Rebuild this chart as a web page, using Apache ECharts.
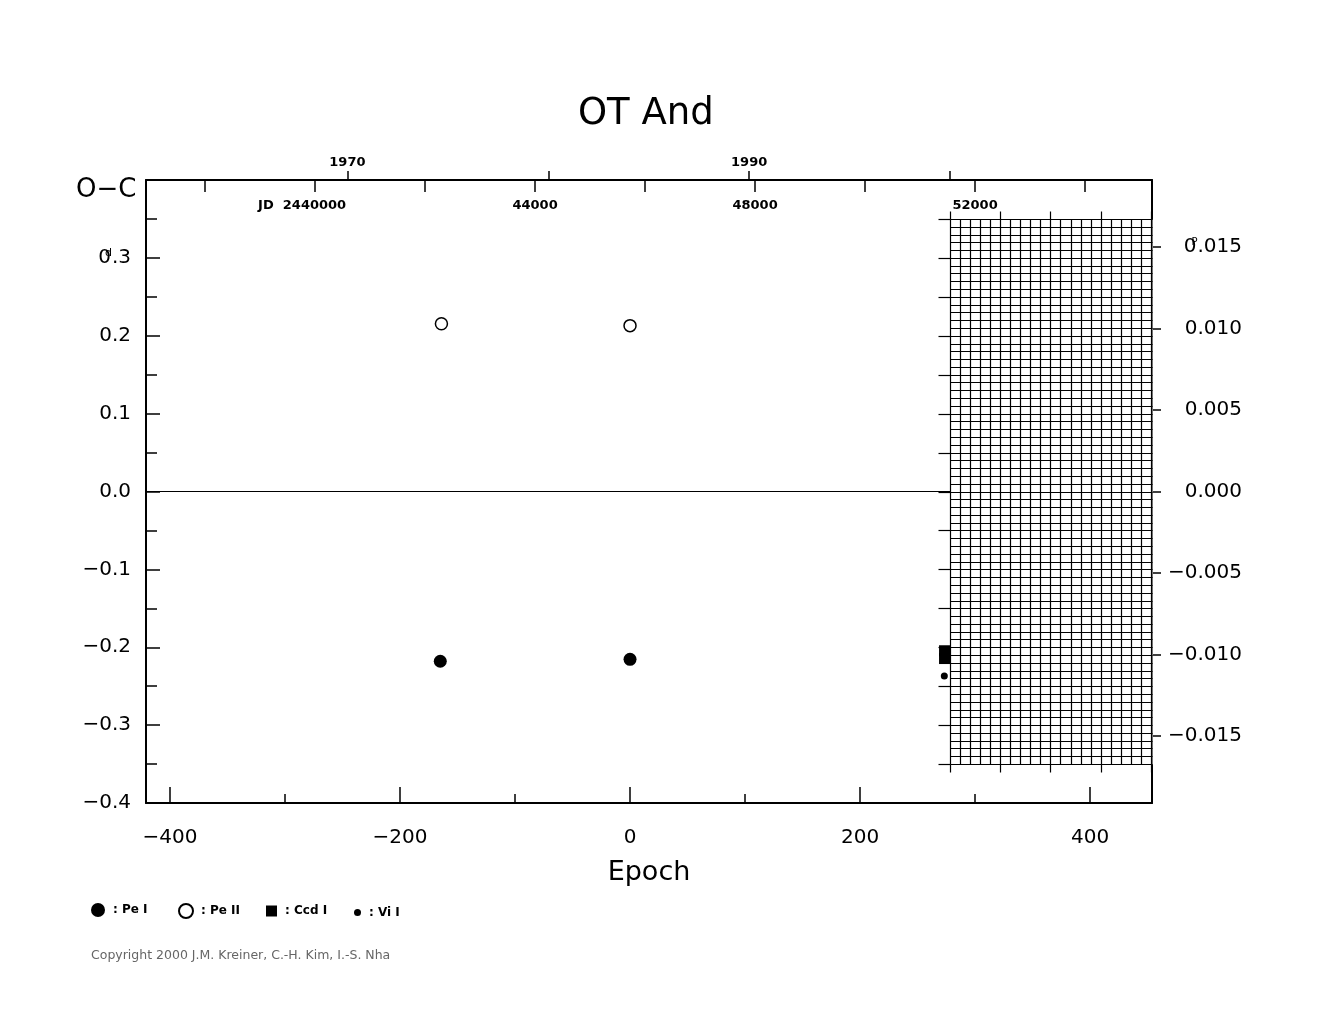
<!DOCTYPE html>
<html><head><meta charset="utf-8">
<script src="https://cdn.jsdelivr.net/npm/echarts@6/dist/echarts.min.js"></script>
<style>html,body{margin:0;padding:0;background:#fff}#c{width:1325px;height:1020px}</style>
</head><body><div id="c"></div>
<script>
// ---------------- data ----------------
const peIEpoch = [-165, 0];
const peIOC = [-0.218, -0.2155];
const peIIEpoch = [-164, 0];
const peIIOC = [0.2155, 0.213];
const ccdIEpoch = [273.5, 273.5];
const ccdIOC = [-0.2045, -0.2145];
const viIEpoch = [273.3];
const viIOC = [-0.237];

const epochTicksMajor = [-400, -200, 0, 200, 400];
const epochTicksMinor = [-300, -100, 100, 300];
const phaseTicks = [-0.015, -0.010, -0.005, 0, 0.005, 0.010, 0.015];
const jdTicks = [38000, 40000, 42000, 44000, 46000, 48000, 50000, 52000, 54000];   // JD - 2400000
const jdLabels = [40000, 44000, 48000, 52000];
const yearTicks = [1970, 1980, 1990, 2000];
const yearLabels = [1970, 1990];

// ephemeris / ranges
const PERIOD = 20.91;       // days
const T0 = 45726.1;         // JD - 2400000 of epoch 0
const EPOCH_MIN = -420.9, EPOCH_MAX = 453.9;
const OC_MIN = -0.4, OC_MAX = 0.4;
const HATCH_START_YEAR = 2000, HATCH_OC = 0.35;

// ---------------- helpers ----------------
const FONT = 'DejaVu Sans';
const jdToEpoch = rjd => (rjd - T0) / PERIOD;
const yearToEpoch = y => jdToEpoch(51544.5 + (y - 2000) * 365.25);
const epochToJd = e => Math.round((e * PERIOD + T0) / 1000) * 1000;
const epochToYear = e => Math.round(2000 + ((e * PERIOD + T0) - 51544.5) / 365.25);
const minus = s => s.replace('-', '\u2212');
const pairs = (xs, ys) => xs.map((x, i) => [x, ys[i]]);

const chart = echarts.init(document.getElementById('c'), null, {renderer: 'canvas'});

function renderHatch(params, api) {
  const x0 = api.value(0), x1 = api.value(1), yLo = api.value(2), yHi = api.value(3);
  const pTL = api.coord([x0, yHi]);
  const pBR = api.coord([x1, yLo]);
  const L = Math.round(pTL[0]) + 0.5, R = Math.round(pBR[0]) + 0.5;
  const T = Math.round(pTL[1]) + 0.5, B = Math.round(pBR[1]) + 0.5;
  const st = {stroke: '#000', lineWidth: 1.2};
  const ch = [{type: 'rect', shape: {x: L, y: T, width: R - L, height: B - T}, style: {fill: '#fff'}}];
  // horizontal lines every 0.01 d
  for (let k = Math.round(yLo * 100); k <= Math.round(yHi * 100); k++) {
    const y = Math.round(api.coord([x0, k / 100])[1]) + 0.5;
    ch.push({type: 'line', shape: {x1: L, y1: y, x2: R, y2: y}, style: st});
    if (k % 5 === 0) ch.push({type: 'line', shape: {x1: L - 12, y1: y, x2: L, y2: y}, style: st});
  }
  // vertical lines every half year
  for (let h = 0; ; h++) {
    const yr = HATCH_START_YEAR + h * 0.5;
    const e = yearToEpoch(yr);
    if (e > x1 + 1e-6) break;
    const x = Math.round(api.coord([e, 0])[0]) + 0.5;
    ch.push({type: 'line', shape: {x1: x, y1: T, x2: x, y2: B}, style: st});
    if (h % 5 === 0) {
      ch.push({type: 'line', shape: {x1: x, y1: T - 8, x2: x, y2: T}, style: st});
      ch.push({type: 'line', shape: {x1: x, y1: B, x2: x, y2: B + 8}, style: st});
    }
  }
  return {type: 'group', children: ch};
}

const axisLineStyle = {color: '#000', width: 2};
const tickStyle = {color: '#000', width: 1.5};

const option = {
  animation: false,
  backgroundColor: '#fff',
  textStyle: {fontFamily: FONT, color: '#000'},
  title: [
    {text: 'OT And', left: 578, top: 96, padding: 0,
     textStyle: {fontSize: 37, fontWeight: 'normal', color: '#000', fontFamily: FONT}},
    {text: 'O\u2212C', left: 76, top: 177, padding: 0,
     textStyle: {fontSize: 26, fontWeight: 'normal', color: '#000', fontFamily: FONT}},
    {text: 'Copyright 2000 J.M. Kreiner, C.-H. Kim, I.-S. Nha', left: 91, top: 949, padding: 0,
     textStyle: {fontSize: 12.5, fontWeight: 'normal', color: '#666', fontFamily: FONT}}
  ],
  legend: [
    {name: 'Pe I', left: 91, top: 903, w: 14, icon: 'circle'},
    {name: 'Pe II', left: 178, top: 903, w: 14, icon: 'circle'},
    {name: 'Ccd I', left: 266, top: 905, w: 11, icon: 'rect'},
    {name: 'Vi I', left: 354, top: 906.5, w: 7, icon: 'circle'}
  ].map(l => ({
    data: [{name: l.name, icon: l.icon}], left: l.left, top: l.top, padding: 0,
    itemWidth: l.w, itemHeight: l.w, selectedMode: false,
    formatter: n => ': ' + n,
    textStyle: {fontSize: 12, fontWeight: 'bold', color: '#000', fontFamily: FONT, padding: [0, 0, 0, 3]}
  })),
  grid: {left: 146, right: 173, top: 180, bottom: 217, containLabel: false, outerBoundsMode: 'none'},
  xAxis: [
    { // bottom epoch axis, major ticks + labels
      type: 'value', position: 'bottom', offset: 0, min: EPOCH_MIN, max: EPOCH_MAX,
      axisLine: {show: true, onZero: false, lineStyle: axisLineStyle},
      axisTick: {show: true, inside: true, length: 16, customValues: epochTicksMajor, lineStyle: tickStyle},
      axisLabel: {show: true, customValues: epochTicksMajor, margin: 25, fontSize: 20, color: '#000',
                  fontFamily: FONT, formatter: v => minus(String(Math.round(v)))},
      splitLine: {show: false},
      name: 'Epoch', nameLocation: 'middle', nameGap: 56,
      nameTextStyle: {fontSize: 27, color: '#000', fontFamily: FONT}
    },
    { // bottom minor ticks
      type: 'value', position: 'bottom', offset: 0, min: EPOCH_MIN, max: EPOCH_MAX,
      axisLine: {show: false, onZero: false},
      axisTick: {show: true, inside: true, length: 9, customValues: epochTicksMinor, lineStyle: tickStyle},
      axisLabel: {show: false}, splitLine: {show: false}
    },
    { // top JD axis
      type: 'value', position: 'top', offset: 0, min: EPOCH_MIN, max: EPOCH_MAX,
      axisLine: {show: true, onZero: false, lineStyle: axisLineStyle},
      axisTick: {show: true, inside: true, length: 12, customValues: jdTicks.map(jdToEpoch), lineStyle: tickStyle},
      axisLabel: {show: true, inside: true, margin: 19, customValues: jdLabels.map(jdToEpoch),
                  fontSize: 13, fontWeight: 'bold', color: '#000', fontFamily: FONT,
                  formatter: v => { const j = epochToJd(v); return j === 40000 ? '{jd|JD  }' + (2400000 + j) + '{pad|}' : String(j); },
                  rich: {jd: {fontSize: 13, fontWeight: 'bold', fontFamily: FONT}, pad: {width: 26}}},
      splitLine: {show: false}
    },
    { // top year axis
      type: 'value', position: 'top', offset: 0, min: EPOCH_MIN, max: EPOCH_MAX,
      axisLine: {show: false, onZero: false},
      axisTick: {show: true, inside: false, length: 9, customValues: yearTicks.map(yearToEpoch), lineStyle: tickStyle},
      axisLabel: {show: true, margin: 11, customValues: yearLabels.map(yearToEpoch),
                  fontSize: 13, fontWeight: 'bold', color: '#000', fontFamily: FONT,
                  formatter: v => String(epochToYear(v))},
      splitLine: {show: false}
    }
  ],
  yAxis: [
    { // left O-C in days
      type: 'value', position: 'left', min: OC_MIN, max: OC_MAX, interval: 0.1,
      axisLine: {show: true, onZero: false, lineStyle: axisLineStyle},
      axisTick: {show: true, inside: true, length: 14, lineStyle: tickStyle},
      minorTick: {show: true, splitNumber: 2, length: 11, lineStyle: tickStyle},
      axisLabel: {margin: 15, fontSize: 20, color: '#000', fontFamily: FONT,
                  formatter: v => {
                    const r = Math.round(v * 10) / 10;
                    if (Math.abs(r - 0.4) < 1e-9) return '';
                    if (Math.abs(r - 0.3) < 1e-9) return '0{d|d}.3';
                    return (r < 0 ? '\u2212' : '') + Math.abs(r).toFixed(1);
                  },
                  rich: {d: {fontSize: 11, width: 1, verticalAlign: 'top', fontFamily: FONT}}},
      splitLine: {show: false}, minorSplitLine: {show: false}
    },
    { // right O-C in period units
      type: 'value', position: 'right', min: OC_MIN / PERIOD, max: OC_MAX / PERIOD,
      axisLine: {show: true, onZero: false, lineStyle: axisLineStyle},
      axisTick: {show: true, inside: false, length: 9, customValues: phaseTicks, lineStyle: tickStyle},
      axisLabel: {show: true, customValues: phaseTicks, margin: 90, align: 'right',
                  fontSize: 20, color: '#000', fontFamily: FONT,
                  formatter: v => {
                    const r = Math.round(v * 1000) / 1000;
                    if (Math.abs(r - 0.015) < 1e-9) return '0{p|P}.015';
                    return (r < 0 ? '\u2212' : '') + Math.abs(r).toFixed(3);
                  },
                  rich: {p: {fontSize: 10, width: 1, verticalAlign: 'top', fontFamily: FONT}}},
      splitLine: {show: false}
    }
  ],
  series: [
    {type: 'line', name: 'zero', xAxisIndex: 0, yAxisIndex: 0, z: 1, silent: true,
     data: [[EPOCH_MIN, 0], [EPOCH_MAX, 0]], symbol: 'none',
     lineStyle: {color: '#000', width: 1}},
    {type: 'custom', name: 'hatch', xAxisIndex: 0, yAxisIndex: 0, z: 2, silent: true, clip: false,
     data: [[yearToEpoch(HATCH_START_YEAR), EPOCH_MAX, -HATCH_OC, HATCH_OC]],
     encode: {x: [0, 1], y: [2, 3]},
     renderItem: renderHatch},
    {type: 'scatter', name: 'Pe I', xAxisIndex: 0, yAxisIndex: 0, z: 4,
     data: pairs(peIEpoch, peIOC), symbol: 'circle', symbolSize: 13,
     itemStyle: {color: '#000', opacity: 1}},
    {type: 'scatter', name: 'Pe II', xAxisIndex: 0, yAxisIndex: 0, z: 4,
     data: pairs(peIIEpoch, peIIOC), symbol: 'circle', symbolSize: 12,
     itemStyle: {color: '#fff', borderColor: '#000', borderWidth: 1.5, opacity: 1}},
    {type: 'scatter', name: 'Ccd I', xAxisIndex: 0, yAxisIndex: 0, z: 4,
     data: pairs(ccdIEpoch, ccdIOC), symbol: 'rect', symbolSize: 11,
     itemStyle: {color: '#000', opacity: 1}},
    {type: 'scatter', name: 'Vi I', xAxisIndex: 0, yAxisIndex: 0, z: 4,
     data: pairs(viIEpoch, viIOC), symbol: 'circle', symbolSize: 7,
     itemStyle: {color: '#000', opacity: 1}}
  ]
};
chart.setOption(option);
</script>
</body></html>
